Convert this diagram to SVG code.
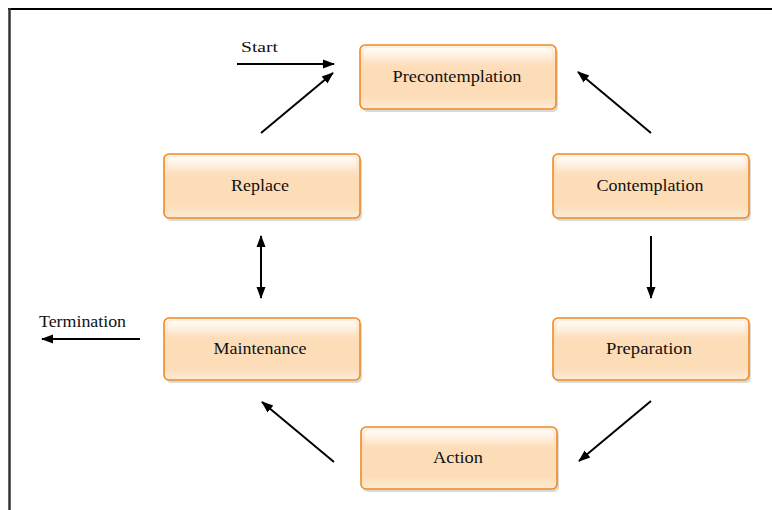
<svg xmlns="http://www.w3.org/2000/svg" width="772" height="510" viewBox="0 0 772 510">
<style>
.lbl{font-family:"Liberation Serif","Times New Roman",serif;fill:#111;}
.nt{font-size:16.5px;text-anchor:middle;}
.box{fill:url(#g);stroke:#F08A24;stroke-width:1.6;}
.hl{fill:url(#h);}
.sh{fill:#bcbcbc;opacity:0.55;}
.ln{stroke:#000;stroke-width:2;fill:none;}
</style>
<defs>
<linearGradient id="g" x1="0" y1="0" x2="0" y2="1">
<stop offset="0" stop-color="#FFF1E2"/>
<stop offset="0.35" stop-color="#FDDDB9"/>
<stop offset="0.8" stop-color="#FCDDB8"/>
<stop offset="1" stop-color="#FEEBD6"/>
</linearGradient>
<linearGradient id="h" x1="0" y1="0" x2="0" y2="1">
<stop offset="0" stop-color="#ffffff" stop-opacity="0.75"/>
<stop offset="1" stop-color="#ffffff" stop-opacity="0.1"/>
</linearGradient>
<marker id="ah" markerUnits="userSpaceOnUse" markerWidth="13" markerHeight="13" viewBox="0 0 13 13" refX="11" refY="6.5" orient="auto-start-reverse">
<path d="M0,2 L12,6.5 L0,11 Z" fill="#000"/>
</marker>
</defs>
<rect width="772" height="510" fill="#fff"/>
<g id="frame">
<line x1="8" y1="9" x2="772" y2="9" stroke="#000" stroke-width="2"/>
<line x1="9.5" y1="8" x2="9.5" y2="510" stroke="#333" stroke-width="2.5"/>
</g>
<g id="precontemplation">
<rect class="sh" x="362" y="48" width="196" height="64" rx="5"/>
<rect class="box" x="360" y="45" width="196" height="64" rx="5"/>
<rect class="hl" x="364" y="48" width="188" height="14" rx="4"/>
<text class="lbl nt" x="457" y="82" textLength="129" lengthAdjust="spacingAndGlyphs">Precontemplation</text>
</g>
<g id="contemplation">
<rect class="sh" x="555" y="157" width="196" height="64" rx="5"/>
<rect class="box" x="553" y="154" width="196" height="64" rx="5"/>
<rect class="hl" x="557" y="157" width="188" height="14" rx="4"/>
<text class="lbl nt" x="650" y="191" textLength="107" lengthAdjust="spacingAndGlyphs">Contemplation</text>
</g>
<g id="replace">
<rect class="sh" x="166" y="157" width="196" height="64" rx="5"/>
<rect class="box" x="164" y="154" width="196" height="64" rx="5"/>
<rect class="hl" x="168" y="157" width="188" height="14" rx="4"/>
<text class="lbl nt" x="260" y="191" textLength="58" lengthAdjust="spacingAndGlyphs">Replace</text>
</g>
<g id="maintenance">
<rect class="sh" x="166" y="321" width="196" height="62" rx="5"/>
<rect class="box" x="164" y="318" width="196" height="62" rx="5"/>
<rect class="hl" x="168" y="321" width="188" height="14" rx="4"/>
<text class="lbl nt" x="260" y="354" textLength="93" lengthAdjust="spacingAndGlyphs">Maintenance</text>
</g>
<g id="preparation">
<rect class="sh" x="555" y="321" width="196" height="62" rx="5"/>
<rect class="box" x="553" y="318" width="196" height="62" rx="5"/>
<rect class="hl" x="557" y="321" width="188" height="14" rx="4"/>
<text class="lbl nt" x="649" y="354" textLength="86" lengthAdjust="spacingAndGlyphs">Preparation</text>
</g>
<g id="action">
<rect class="sh" x="363" y="430" width="196" height="62" rx="5"/>
<rect class="box" x="361" y="427" width="196" height="62" rx="5"/>
<rect class="hl" x="365" y="430" width="188" height="14" rx="4"/>
<text class="lbl nt" x="458" y="463" textLength="50" lengthAdjust="spacingAndGlyphs">Action</text>
</g>
<g id="labels">
<text class="lbl" x="241" y="52" font-size="15" textLength="37" lengthAdjust="spacingAndGlyphs">Start</text>
<text class="lbl" x="39" y="327" font-size="16" textLength="87" lengthAdjust="spacingAndGlyphs">Termination</text>
</g>
<g id="connectors">
<line class="ln" x1="237" y1="64" x2="334" y2="64" marker-end="url(#ah)"/>
<line class="ln" x1="261" y1="133" x2="333" y2="73" marker-end="url(#ah)"/>
<line class="ln" x1="651" y1="133" x2="578" y2="72" marker-end="url(#ah)"/>
<line class="ln" x1="651" y1="236" x2="651" y2="298" marker-end="url(#ah)"/>
<line class="ln" x1="651" y1="401" x2="579" y2="461" marker-end="url(#ah)"/>
<line class="ln" x1="334" y1="462" x2="262" y2="402" marker-end="url(#ah)"/>
<line class="ln" x1="261" y1="236" x2="261" y2="298" marker-start="url(#ah)" marker-end="url(#ah)"/>
<line class="ln" x1="140" y1="339" x2="42" y2="339" marker-end="url(#ah)"/>
</g>
</svg>
